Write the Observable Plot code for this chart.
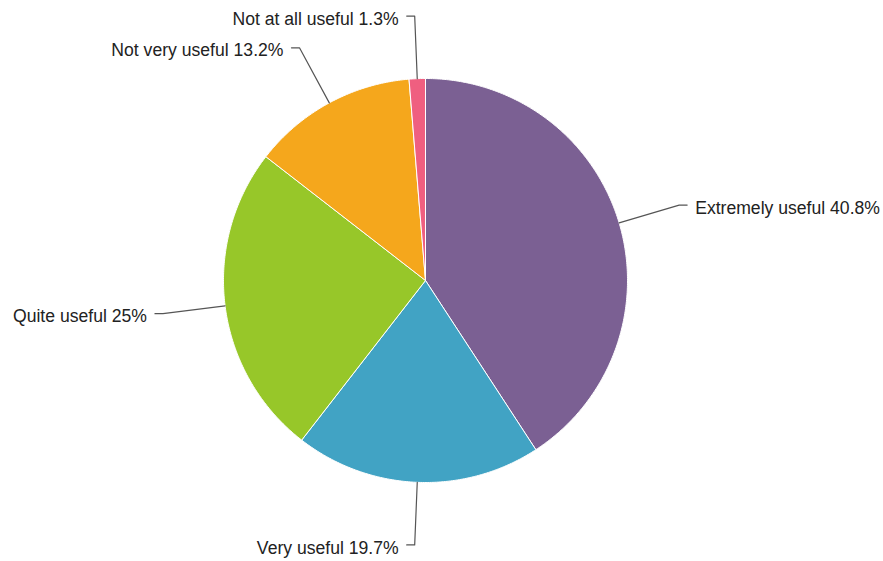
<!DOCTYPE html>
<html>
<head>
<meta charset="utf-8">
<script src="https://cdn.jsdelivr.net/npm/d3@7"></script>
<script src="https://cdn.jsdelivr.net/npm/@observablehq/plot@0.6"></script>
<style>
  html, body { margin: 0; padding: 0; background: #fff; }
</style>
</head>
<body>
<div id="chart"></div>
<script>
const categories = ["Extremely useful", "Very useful", "Quite useful", "Not very useful", "Not at all useful"];
const values = [40.8, 19.7, 25, 13.2, 1.3];
const colors = ["#7b6093", "#41a3c4", "#97c729", "#f5a71c", "#ef5f80"];

const W = 883, H = 561, cx = 425, cy = 280, R = 202;
const rows = categories.map((c, i) => ({category: c, value: values[i]}));
const arcs = d3.pie().sort(null).value(d => d.value)(rows);

// slice polygons (unit radius, y up)
const slicePts = [];
for (const a of arcs) {
  const n = Math.max(2, Math.ceil((a.endAngle - a.startAngle) / (Math.PI / 360)));
  slicePts.push({category: a.data.category, x: 0, y: 0});
  for (let k = 0; k <= n; k++) {
    const t = a.startAngle + (a.endAngle - a.startAngle) * k / n;
    slicePts.push({category: a.data.category, x: Math.sin(t), y: Math.cos(t)});
  }
  slicePts.push({category: a.data.category, x: 0, y: 0});
}

// leader lines and labels
const leaders = [];
const labels = [];
for (const a of arcs) {
  const m = (a.startAngle + a.endAngle) / 2;
  const s = Math.sin(m), c = Math.cos(m);
  const right = s >= 0;
  const dir = right ? 1 : -1;
  const p2x = s * 1.31, p2y = c * 1.31;
  const cat = a.data.category;
  leaders.push({category: cat, x: s, y: c});
  leaders.push({category: cat, x: p2x, y: p2y});
  leaders.push({category: cat, x: p2x + dir * 8 / R, y: p2y});
  labels.push({
    x: p2x + dir * 16 / R, y: p2y,
    text: `${cat} ${a.data.value}%`,
    anchor: right ? "start" : "end"
  });
}

const chart = Plot.plot({
  width: W, height: H,
  margin: 0,
  x: {domain: [-cx / R, (W - cx) / R], range: [0, W], axis: null},
  y: {domain: [-(H - cy) / R, cy / R], range: [H, 0], axis: null},
  color: {domain: categories, range: colors},
  style: {fontFamily: "'Liberation Sans', Arial, Helvetica, sans-serif"},
  marks: [
    Plot.line(slicePts, {x: "x", y: "y", z: "category", fill: "category", stroke: "white", strokeWidth: 1, curve: "linear"}),
    Plot.line(leaders, {x: "x", y: "y", z: "category", stroke: "#555", strokeWidth: 1.2}),
    Plot.text(labels.filter(d => d.anchor === "start"), {x: "x", y: "y", text: "text", textAnchor: "start", fontSize: 17.6, dy: 3, fill: "#222"}),
    Plot.text(labels.filter(d => d.anchor === "end"), {x: "x", y: "y", text: "text", textAnchor: "end", fontSize: 17.6, dy: 3, fill: "#222"})
  ]
});
document.getElementById("chart").appendChild(chart);
</script>
</body>
</html>
